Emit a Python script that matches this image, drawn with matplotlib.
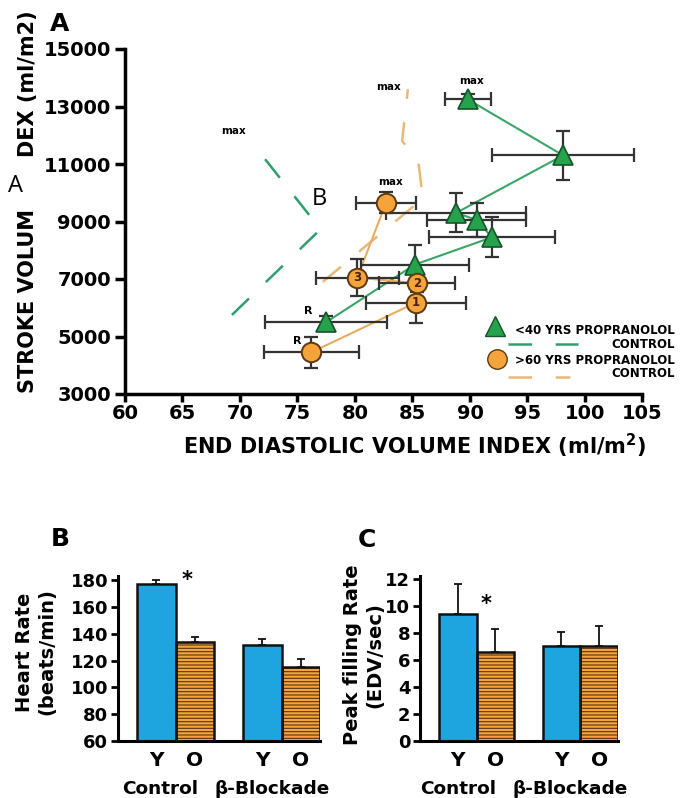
import matplotlib
matplotlib.use("Agg")
import matplotlib.pyplot as plt

plt.rcParams['font.family'] = ['DejaVu Sans']
plt.rcParams['font.weight'] = 'bold'
plt.rcParams['lines.scale_dashes'] = False
plt.rcParams['hatch.linewidth'] = 0.8

# Panel A data: stroke volume index vs end diastolic volume index
young_x = [77.5, 85.2, 91.9, 90.6, 88.8, 98.1, 89.8]
young_y = [5500, 7500, 8450, 9050, 9300, 11300, 13250]
young_xerr = [5.3, 4.7, 5.5, 4.3, 6.1, 6.2, 2.0]
young_yerr = [200, 700, 700, 600, 680, 850, 200]

old_x = [76.2, 85.3, 85.4, 80.2, 82.7]
old_y = [4450, 6180, 6850, 7050, 9650]
old_xerr = [4.15, 4.35, 3.3, 3.6, 2.6]
old_yerr = [540, 700, 300, 650, 370]
old_tags = ["", "1", "2", "3", ""]

young_ctrl_x = [69.3, 77.0, 72.0]
young_ctrl_y = [5750, 8730, 11260]
old_ctrl_x = [77.2, 85.9, 85.5, 84.1, 84.6]
old_ctrl_y = [6900, 9800, 11100, 11800, 13600]

# Panels B and C
groups = ["Control", "β-Blockade"]
bar_labels = ["Y", "O", "Y", "O"]
hr_mean = [177, 134, 131.5, 115.5]
hr_err = [3, 3.5, 4.5, 5.5]
pfr_mean = [9.4, 6.6, 7.0, 7.0]
pfr_err = [2.2, 1.7, 1.05, 1.5]

W, H = 682, 798
fig = plt.figure(figsize=(W / 100, H / 100), dpi=100)


def px(x0, y0, x1, y1):
    return [x0 / W, 1 - y1 / H, (x1 - x0) / W, (y1 - y0) / H]


GREEN = '#25a24c'
GREEN_EDGE = '#15532a'
GREEN_LINE = '#3aa566'
ORANGE = '#f4a43a'
ORANGE_EDGE = '#5e3a10'
ORANGE_LINE = '#e5ad62'
BLUE = '#1ea5df'

# ---------------- Panel A ----------------
ax = fig.add_axes(px(125, 49, 642.5, 394))
ax.set_xlim(60, 105)
ax.set_ylim(3000, 15000)
ax.set_xticks(range(60, 106, 5))
ax.set_yticks(range(3000, 15001, 2000))
for s in ['top', 'right']:
    ax.spines[s].set_visible(False)
for s in ['left', 'bottom']:
    ax.spines[s].set_linewidth(2.5)
ax.tick_params(axis='both', width=2.5, labelsize=14)
ax.tick_params(axis='x', length=6, pad=1)
ax.tick_params(axis='y', length=7, pad=3)

ax.plot(young_ctrl_x, young_ctrl_y, color='#2e9e6e', lw=1.8, dashes=(17, 17))
ax.plot(old_ctrl_x, old_ctrl_y, color='#e8b878', lw=1.8, dashes=(17, 17))
ax.plot(young_x, young_y, color=GREEN_LINE, lw=1.5, zorder=2)
ax.plot(old_x, old_y, color=ORANGE_LINE, lw=1.5, zorder=2)
ax.errorbar(young_x, young_y, xerr=young_xerr, yerr=young_yerr, fmt='none',
            ecolor='#333333', elinewidth=1.6, capsize=5, capthick=1.6, zorder=3)
ax.errorbar(old_x, old_y, xerr=old_xerr, yerr=old_yerr, fmt='none',
            ecolor='#333333', elinewidth=1.6, capsize=5, capthick=1.6, zorder=3)
ax.plot(young_x, young_y, '^', ms=15, mfc=GREEN, mec=GREEN_EDGE, mew=1.2, ls='none', zorder=4)
ax.plot(old_x, old_y, 'o', ms=14, mfc=ORANGE, mec=ORANGE_EDGE, mew=1.4, ls='none', zorder=4)
for x, y, t in zip(old_x, old_y, old_tags):
    if t:
        ax.text(x, y, t, ha='center', va='center', fontsize=8.5, color='#4a2010', zorder=5)

ax.annotate("R", (young_x[0], young_y[0]), xytext=(-13, 8), textcoords='offset points',
            ha='center', va='center', fontsize=8)
ax.annotate("R", (old_x[0], old_y[0]), xytext=(-10, 8), textcoords='offset points',
            ha='center', va='center', fontsize=8)
ax.annotate("max", (young_x[-1], young_y[-1]), xytext=(3, 13), textcoords='offset points',
            ha='center', va='center', fontsize=7.5)
ax.annotate("max", (old_x[-1], old_y[-1]), xytext=(3, 15), textcoords='offset points',
            ha='center', va='center', fontsize=7.5)
ax.text(69.4, 12150, "max", ha='center', va='center', fontsize=7.5)
ax.text(82.9, 13670, "max", ha='center', va='center', fontsize=7.5)

# legend drawn by hand
fig.text(675 / W, 1 - 331 / H, "<40 YRS PROPRANOLOL", ha='right', va='center', fontsize=8.5)
fig.text(675 / W, 1 - 344 / H, "CONTROL", ha='right', va='center', fontsize=8.5)
fig.text(675 / W, 1 - 360 / H, ">60 YRS PROPRANOLOL", ha='right', va='center', fontsize=8.5)
fig.text(675 / W, 1 - 373 / H, "CONTROL", ha='right', va='center', fontsize=8.5)
fig.lines.append(plt.Line2D([495 / W], [1 - 326 / H], marker='^', ms=15, mfc=GREEN,
                            mec=GREEN_EDGE, transform=fig.transFigure))
fig.lines.append(plt.Line2D([497 / W], [1 - 359 / H], marker='o', ms=14, mfc=ORANGE,
                            mec=ORANGE_EDGE, transform=fig.transFigure))
fig.lines.append(plt.Line2D([508 / W, 578 / W], [1 - 344 / H] * 2, color='#2e9e6e', lw=1.8,
                            dashes=(17, 17), transform=fig.transFigure))
fig.lines.append(plt.Line2D([508 / W, 570 / W], [1 - 377 / H] * 2, color='#e8b878', lw=1.8,
                            dashes=(17, 17), transform=fig.transFigure))

fig.text(415 / W, 1 - 446 / H, "END DIASTOLIC VOLUME INDEX (ml/m$^{\\mathbf{2}}$)",
         ha='center', va='center', fontsize=15)
fig.text(28 / W, 1 - 393 / H, "STROKE VOLUM", rotation=90, ha='center', va='bottom', fontsize=15)
fig.text(28 / W, 1 - 157 / H, "DEX (ml/m2)", rotation=90, ha='center', va='bottom', fontsize=15)
fig.text(15 / W, 1 - 186 / H, "A", ha='center', va='center', fontsize=17, fontweight='normal',
         family='Open Sans')
fig.text(319 / W, 1 - 199 / H, "B", ha='center', va='center', fontsize=17, fontweight='normal',
         family='Open Sans')
fig.text(60 / W, 1 - 24 / H, "A", ha='center', va='center', fontsize=18, fontweight='heavy')


# ---------------- Panels B and C ----------------
def bar_panel(rect, means, errs, ylim, yticks, star):
    bx = fig.add_axes(rect)
    pos = [1, 2, 3.75, 4.75]
    cols = [BLUE, ORANGE, BLUE, ORANGE]
    bottom = ylim[0]
    heights = [m - bottom for m in means]
    for p, h, c in zip(pos, heights, cols):
        if c == ORANGE:
            bx.bar(p, h, 1.0, bottom=bottom, color=c, edgecolor='#5a3410', lw=0,
                   hatch='-----', zorder=2)
        else:
            bx.bar(p, h, 1.0, bottom=bottom, color=c, lw=0, zorder=2)
        bx.bar(p, h, 1.0, bottom=bottom, fill=False, edgecolor='#111111', lw=1.8, zorder=3)
    bx.errorbar(pos, means, yerr=[[0] * 4, errs], fmt='none', ecolor='#111111',
                elinewidth=1.3, capsize=3, capthick=1.3, zorder=1)
    bx.set_xlim(0, 5.25)
    bx.set_ylim(*ylim)
    bx.set_yticks(yticks)
    bx.set_xticks(pos)
    bx.set_xticklabels(bar_labels, fontsize=14.5)
    bx.tick_params(axis='x', length=0, pad=7)
    bx.tick_params(axis='y', width=2, length=5, labelsize=13, pad=2)
    for s in ['top', 'right']:
        bx.spines[s].set_visible(False)
    for s in ['left', 'bottom']:
        bx.spines[s].set_linewidth(2.2)
    bx.text(star[0], star[1], "*", ha='center', va='center', fontsize=15)
    return bx


bar_panel(px(118, 576, 320, 741), hr_mean, hr_err, (60, 183), range(60, 181, 20), (1.8, 180))
bar_panel(px(420, 576, 618, 741), pfr_mean, pfr_err, (0, 12.2), range(0, 13, 2), (1.75, 10.1))

fig.text(36 / W, 1 - 652 / H, "Heart Rate\n(beats/min)", rotation=90, ha='center', va='center',
         fontsize=14, linespacing=1.2)
fig.text(364 / W, 1 - 655 / H, "Peak filling Rate\n(EDV/sec)", rotation=90, ha='center',
         va='center', fontsize=14, linespacing=1.2)
fig.text(160 / W, 1 - 789 / H, groups[0], ha='center', va='center', fontsize=13.3)
fig.text(272 / W, 1 - 789 / H, groups[1], ha='center', va='center', fontsize=13.3)
fig.text(458 / W, 1 - 789 / H, groups[0], ha='center', va='center', fontsize=13.3)
fig.text(570 / W, 1 - 789 / H, groups[1], ha='center', va='center', fontsize=13.3)
fig.text(60 / W, 1 - 539 / H, "B", ha='center', va='center', fontsize=18, fontweight='heavy')
fig.text(367 / W, 1 - 540 / H, "C", ha='center', va='center', fontsize=18, fontweight='heavy')

fig.savefig("out.png", dpi=100)
